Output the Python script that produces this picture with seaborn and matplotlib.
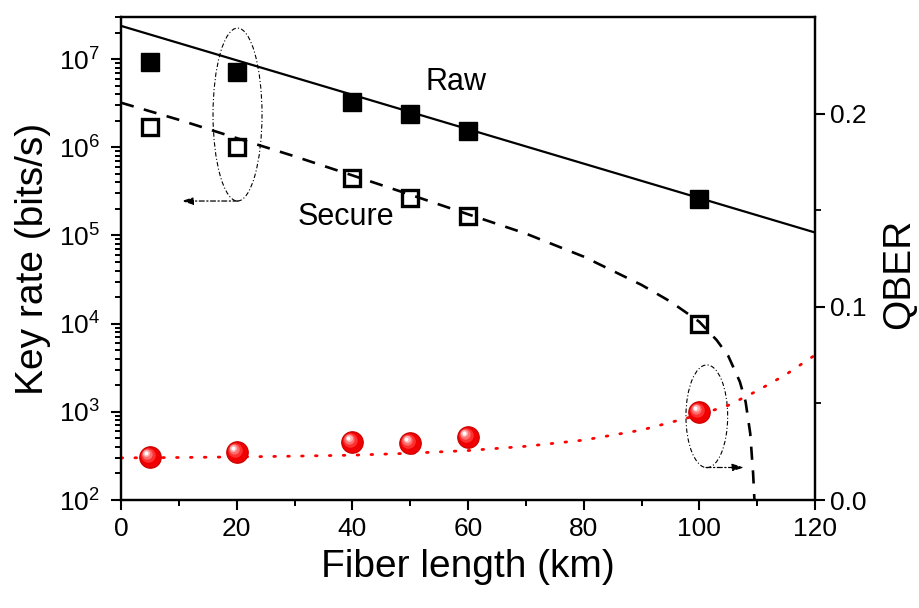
import matplotlib
matplotlib.use('Agg')
import matplotlib.pyplot as plt
import matplotlib.transforms as mtransforms
import seaborn as sns
from matplotlib.patches import Ellipse
from matplotlib.transforms import offset_copy
from matplotlib.ticker import (FixedLocator, LogFormatterMathtext,
                               FormatStrFormatter, NullFormatter)

# ---------------- data ----------------
length_pts = [5, 20, 40, 50, 60, 100]
raw_rate = [9.3e6, 7.1e6, 3.3e6, 2.4e6, 1.53e6, 2.6e5]
secure_rate = [1.68e6, 1.02e6, 4.46e5, 2.65e5, 1.66e5, 1.0e4]
qber_pts = [0.0223, 0.0249, 0.0301, 0.0296, 0.0327, 0.0457]

raw_fit_length = [0, 120]
raw_fit_rate = [2.38e7, 1.08e5]

secure_fit_length = [0, 10, 20, 30, 40, 50, 60, 70, 80, 90, 95, 100, 103, 105,
                     107, 108, 108.8, 109.3, 109.6]
secure_fit_rate = [3.2e6, 2.05e6, 1.27e6, 7.9e5, 4.8e5, 2.9e5, 1.74e5, 1.05e5,
                   5.75e4, 2.75e4, 1.78e4, 1.05e4, 6.5e3, 4.3e3, 2.2e3, 1.3e3,
                   5.7e2, 2.0e2, 8.0e1]

qber_fit_length = [0, 10, 20, 30, 40, 50, 60, 70, 80, 90, 100, 105, 110, 115, 120]
qber_fit = [0.0218, 0.0220, 0.0223, 0.0227, 0.0232, 0.0242, 0.0256, 0.0278,
            0.0310, 0.0362, 0.0441, 0.0490, 0.0565, 0.0650, 0.0750]

x_ticks = [0, 20, 40, 60, 80, 100, 120]
x_minor_ticks = [10, 30, 50, 70, 90, 110]
rate_ticks = [1e2, 1e3, 1e4, 1e5, 1e6, 1e7]
rate_minor_ticks = [k * d for d in [1e2, 1e3, 1e4, 1e5, 1e6, 1e7]
                    for k in [2, 3, 4, 5, 6, 7, 8, 9] if k * d <= 3e7]
qber_ticks = [0.0, 0.1, 0.2]
qber_minor_ticks = [0.05, 0.15]

# ---------------- style ----------------
sns.set_style('ticks')
plt.rcParams['font.family'] = ['Liberation Sans', 'DejaVu Sans']
plt.rcParams['mathtext.fontset'] = 'custom'
plt.rcParams['mathtext.rm'] = 'Liberation Sans'
plt.rcParams['mathtext.it'] = 'Liberation Sans:italic'
plt.rcParams['mathtext.bf'] = 'Liberation Sans:bold'
plt.rcParams['axes.linewidth'] = 1.6
for k in ['text.color', 'axes.labelcolor', 'xtick.color', 'ytick.color',
          'axes.edgecolor', 'xtick.labelcolor', 'ytick.labelcolor']:
    plt.rcParams[k] = 'black'
plt.rcParams['xtick.minor.size'] = 4.5
plt.rcParams['ytick.minor.size'] = 4.5
plt.rcParams['xtick.minor.width'] = 1.3
plt.rcParams['ytick.minor.width'] = 1.3
plt.rcParams['xtick.major.size'] = 7
plt.rcParams['ytick.major.size'] = 7
plt.rcParams['xtick.major.width'] = 1.5
plt.rcParams['ytick.major.width'] = 1.5
plt.rcParams['xtick.labelsize'] = 19
plt.rcParams['ytick.labelsize'] = 19

rect = [121 / 919, 1 - 500 / 608, 694 / 919, 483 / 608]
fig = plt.figure(figsize=(9.19, 6.08), dpi=100)
ax = fig.add_axes(rect)
ax2 = ax.twinx()

ax.set_yscale('log')

# fitted / theory curves
sns.lineplot(x=raw_fit_length, y=raw_fit_rate, ax=ax, color='black', lw=1.6)
sns.lineplot(x=secure_fit_length, y=secure_fit_rate, ax=ax, color='black', lw=1.9,
             sort=False, estimator=None)
ax.lines[-1].set_dashes((5, 4))

# data markers
ax.plot(length_pts, raw_rate, ls='none', marker='s', ms=13, color='black')
ax.plot(length_pts, secure_rate, ls='none', marker='s', ms=11.5, mfc='none',
        mec='black', mew=2.4)

# QBER
sns.lineplot(x=qber_fit_length, y=qber_fit, ax=ax2, color='red', lw=2.0)
ax2.lines[-1].set_dashes((0.6, 4.4))
ax2.lines[-1].set_dash_capstyle('round')

sns.scatterplot(x=length_pts, y=qber_pts, ax=ax2, s=240, color='#f00000',
                edgecolor='#c80000', linewidth=0.8, zorder=5)
for dx, dy, s, c in [(-1.5, 1.5, 110, '#ff3030'), (-2.2, 2.2, 55, '#ff7070'),
                     (-2.6, 2.6, 25, '#ffb0b0'), (-2.8, 2.8, 8, '#ffffff')]:
    tr = offset_copy(ax2.transData, fig=fig, x=dx, y=dy, units='points')
    ax2.scatter(length_pts, qber_pts, s=s, color=c, linewidths=0, transform=tr,
                zorder=6)

# ---------------- axes ----------------
ax.set_xlim(0, 120)
ax.set_ylim(1e2, 3e7)
ax2.set_ylim(0, 0.25)

ax.xaxis.set_major_locator(FixedLocator(x_ticks))
ax.xaxis.set_minor_locator(FixedLocator(x_minor_ticks))
ax.yaxis.set_major_locator(FixedLocator(rate_ticks))
ax.yaxis.set_minor_locator(FixedLocator(rate_minor_ticks))
ax.yaxis.set_major_formatter(LogFormatterMathtext())
ax.yaxis.set_minor_formatter(NullFormatter())
ax.xaxis.set_minor_formatter(NullFormatter())

ax2.yaxis.set_major_locator(FixedLocator(qber_ticks))
ax2.yaxis.set_minor_locator(FixedLocator(qber_minor_ticks))
ax2.yaxis.set_major_formatter(FormatStrFormatter('%.1f'))
ax2.yaxis.set_minor_formatter(NullFormatter())

ax.tick_params(axis='y', which='major', pad=8)
ax.tick_params(axis='x', which='major', pad=5)
ax2.tick_params(axis='y', which='major', pad=4)
ax.tick_params(axis='x', which='minor', bottom=True, top=False)
ax.tick_params(axis='y', which='minor', left=True, right=False)

for s in ax.spines.values():
    s.set_visible(True)
    s.set_linewidth(1.6)
    s.set_color('black')
for s in ax2.spines.values():
    s.set_linewidth(1.6)
    s.set_color('black')

# explicit outward minor tick marks on the left (log) and bottom axes
minor_len_px = 6.0
trans_y = mtransforms.blended_transform_factory(ax.transAxes, ax.transData)
trans_x = mtransforms.blended_transform_factory(ax.transData, ax.transAxes)
for v in rate_minor_ticks:
    ax.plot([0, -minor_len_px / 694], [v, v], transform=trans_y, color='black',
            lw=1.3, solid_capstyle='butt', clip_on=False, zorder=10)
for v in x_minor_ticks:
    ax.plot([v, v], [0, -minor_len_px / 483], transform=trans_x, color='black',
            lw=1.3, solid_capstyle='butt', clip_on=False, zorder=10)

ax.set_xlabel('Fiber length (km)', fontsize=28, labelpad=6)
ax.set_ylabel('Key rate (bits/s)', fontsize=28, labelpad=6)
ax2.set_ylabel('QBER', fontsize=28)
ax2.yaxis.set_label_coords(1.096, 0.468)

# ---------------- annotations ----------------
ax.text(57.9, 5.5e6, 'Raw', fontsize=22, ha='center', va='center')
ax.text(38.9, 1.6e5, 'Secure', fontsize=22, ha='center', va='center')

dd = (0, (4, 2, 1, 2))
ax.add_patch(Ellipse((0.1679, 0.798), 0.0706, 0.358, transform=ax.transAxes,
                     fill=False, ls=dd, lw=0.8, ec='black'))
ax.add_patch(Ellipse((0.8441, 0.1733), 0.0601, 0.2126, transform=ax.transAxes,
                     fill=False, ls=dd, lw=0.8, ec='black'))
arrow_kw = dict(arrowstyle='-|>,head_length=0.7,head_width=0.22', ls=dd, lw=0.9,
                color='black', shrinkA=0, shrinkB=0)
ax.annotate('', xy=(0.0872, 0.619), xytext=(0.1686, 0.619), xycoords='axes fraction',
            textcoords='axes fraction', arrowprops=arrow_kw)
ax.annotate('', xy=(0.8977, 0.0673), xytext=(0.843, 0.0673), xycoords='axes fraction',
            textcoords='axes fraction', arrowprops=arrow_kw)

fig.savefig('out.png', dpi=100)
